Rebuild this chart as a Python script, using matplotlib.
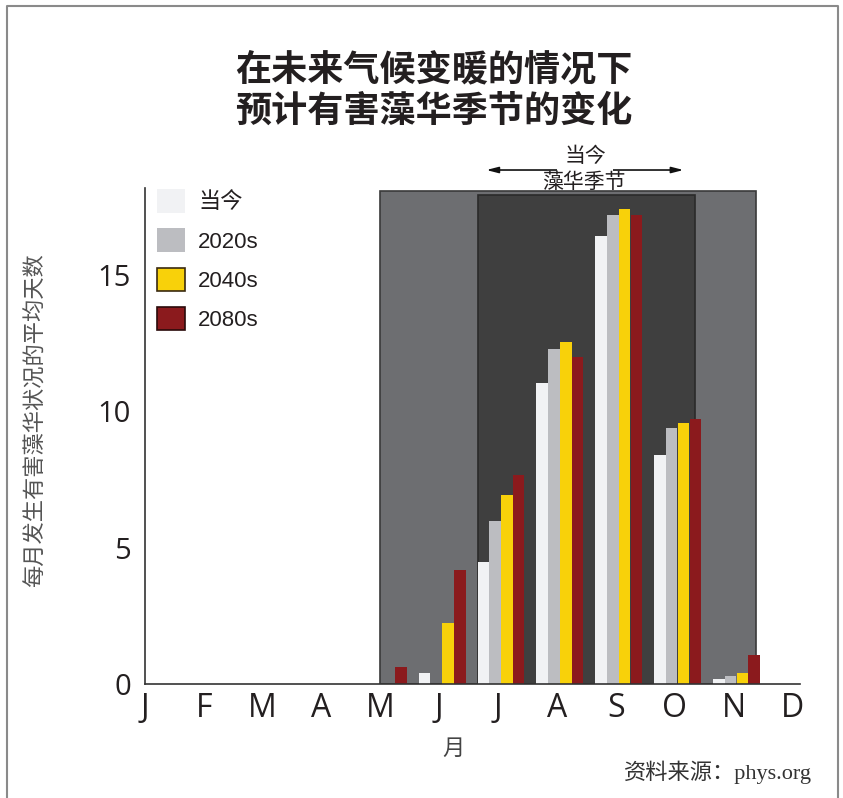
import matplotlib
matplotlib.use("Agg")
import matplotlib.pyplot as plt
from matplotlib.patches import Rectangle, Patch
from matplotlib.lines import Line2D
import numpy as np

plt.rcParams["font.family"] = ["Open Sans", "Noto Sans CJK SC", "DejaVu Sans"]

# 每月有害藻华天数（当今与未来各年代）
months = ["J", "F", "M", "A", "M", "J", "J", "A", "S", "O", "N", "D"]
series_names = ["当今", "2020s", "2040s", "2080s"]
days_now = [0, 0, 0, 0, 0, 0.41, 4.49, 11.06, 16.45, 8.42, 0.19, 0]
days_2020s = [0, 0, 0, 0, 0, 0, 5.99, 12.30, 17.22, 9.41, 0.30, 0]
days_2040s = [0, 0, 0, 0, 0, 2.25, 6.95, 12.56, 17.44, 9.59, 0.39, 0]
days_2080s = [0, 0, 0, 0, 0.61, 4.19, 7.66, 12.00, 17.20, 9.74, 1.05, 0]

colors = ["#f1f2f4", "#bcbdc1", "#f8d10a", "#8b1a1d"]
edges = ["none", "none", "#3a2a10", "#2a0a0a"]

fig = plt.figure(figsize=(8.43, 7.98), dpi=100)
ax = fig.add_axes([145 / 843, 1 - 684 / 798, 655 / 843, 496 / 798])

# 背景阴影：有害藻华季节（未来 / 当今）
ax.add_patch(Rectangle((3.99, 0), 6.39, 18.1, facecolor="#6d6e71",
                       edgecolor="#3a3a3a", lw=1.2, zorder=1))
ax.add_patch(Rectangle((5.66, 0), 3.69, 17.96, facecolor="#3f3f3f",
                       edgecolor="#2a2a2a", lw=1.2, zorder=2))

x = np.arange(len(months))
w = 0.195
for k, vals in enumerate([days_now, days_2020s, days_2040s, days_2080s]):
    ax.bar(x + 0.05 + (k - 1.5) * 0.2, vals, width=w, color=colors[k],
           linewidth=0, zorder=3)

ax.set_xlim(0, 11.13)
ax.set_ylim(0, 18.2)
ax.set_xticks(x)
ax.set_xticklabels(months, fontsize=23, color="#231f20")
ax.set_yticks([0, 5, 10, 15])
ax.set_yticklabels(["0", "5", "10", "15"], fontsize=21, color="#231f20")
ax.tick_params(axis="x", length=0, pad=6)
ax.tick_params(axis="y", length=0, pad=10)
for s in ["top", "right"]:
    ax.spines[s].set_visible(False)
for s in ["left", "bottom"]:
    ax.spines[s].set_color("#333333")
    ax.spines[s].set_linewidth(1.2)
    ax.spines[s].set_zorder(4)

# 图例
handles = [Patch(facecolor=c, edgecolor=e, linewidth=1.2)
           for c, e in zip(colors, edges)]
leg = ax.legend(handles, series_names, loc="upper left",
                bbox_to_anchor=(157 / 843, 1 - 189 / 798),
                bbox_transform=fig.transFigure, frameon=False,
                prop={"family": ["Liberation Sans", "Noto Sans CJK SC"], "size": 16},
                handlelength=1.25, handleheight=1.25, handletextpad=0.6,
                labelspacing=0.68, borderpad=0, borderaxespad=0)
for t in leg.get_texts():
    t.set_color("#231f20")

# 当今藻华季节的箭头
ax.annotate("", xy=(5.8, 18.86), xytext=(9.15, 18.86),
            arrowprops=dict(arrowstyle="<|-|>,head_length=0.7,head_width=0.18",
                            color="#111111", lw=1.2, shrinkA=0, shrinkB=0),
            annotation_clip=False, zorder=5)
ax.text(7.48, 19.35, "当今", ha="center", va="center", fontsize=15,
        color="#231f20", zorder=6, clip_on=False,
        bbox=dict(facecolor="white", edgecolor="none", pad=5))
ax.text(7.45, 18.4, "藻华季节", ha="center", va="center", fontsize=15,
        color="#231f20", zorder=6, clip_on=False)

# 标题
fig.text(235 / 843, 1 - 91 / 798, "在未来气候变暖的情况下\n预计有害藻华季节的变化",
         ha="left", va="center", fontsize=26, fontweight="bold",
         family=["Noto Sans CJK SC"], color="#231f20", linespacing=1.15)

fig.text(35 / 843, 1 - 420 / 798, "每月发生有害藻华状况的平均天数", rotation=90,
         ha="center", va="center", fontsize=16, color="#555555",
         family=["Noto Sans CJK SC"])
fig.text(453 / 843, 1 - 748 / 798, "月", ha="center", va="center",
         fontsize=16, color="#444444", family=["Noto Sans CJK SC"])
fig.text(812 / 843, 1 - 772 / 798, "资料来源：phys.org", ha="right", va="center",
         fontsize=16, color="#333333",
         family=["Liberation Serif", "Noto Sans CJK SC"])

# 外框
fig.add_artist(Line2D([7 / 843, 7 / 843, 838 / 843, 838 / 843],
                      [0, 1 - 6 / 798, 1 - 6 / 798, 0],
                      transform=fig.transFigure, color="#8a8a8a", lw=1.5))

fig.savefig("out.png", dpi=100)
